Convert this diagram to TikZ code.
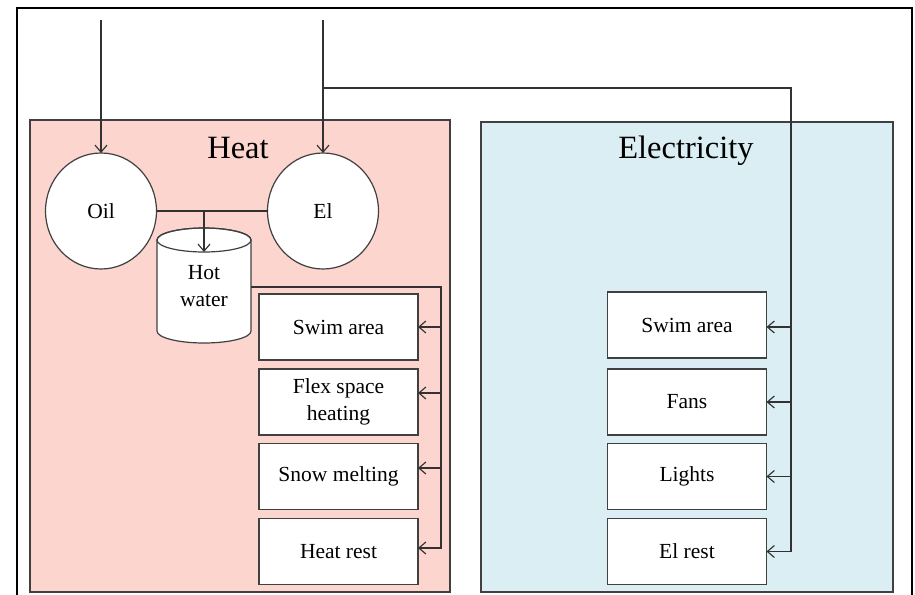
\documentclass[tikz,border=0pt]{standalone}
\usepackage{fontspec}
\setmainfont{Liberation Serif}
\usetikzlibrary{arrows.meta,shapes.geometric}
\definecolor{heatfill}{RGB}{252,213,206}
\definecolor{elfill}{RGB}{219,238,243}
\definecolor{edgegray}{RGB}{64,64,64}
\definecolor{wiregray}{RGB}{50,50,50}
\begin{document}
\begin{tikzpicture}[x=1pt,y=-1pt,
  every node/.style={inner sep=0pt, outer sep=0pt},
  group/.style={draw=edgegray, line width=1.3pt, minimum width=#1},
  title/.style={font=\fontsize{32.5}{36}\selectfont},
  box/.style={draw=edgegray, line width=1.2pt, fill=white, minimum width=159pt, minimum height=66pt, align=center, font=\fontsize{21.5}{27}\selectfont},
  src/.style={draw=edgegray, line width=1.2pt, fill=white, ellipse, minimum width=111pt, minimum height=116pt, font=\fontsize{21.5}{27}\selectfont},
  wire/.style={draw=wiregray, line width=1.15pt},
  conn/.style={wire, -{Straight Barb[length=7pt,width=12pt]}}
]
\useasboundingbox (0,0) rectangle (915,594);
% outer frame
\draw[line width=1.9pt] (17,600) -- (17,8) -- (912,8) -- (912,600);
% groups
\node[group=420pt, minimum height=472pt, fill=heatfill] (heat) at (240,356) {};
\node[group=412pt, minimum height=470pt, fill=elfill] (elec) at (687,357) {};
\node[title] (heatT) at (238,148) {Heat};
\node[title] (elecT) at (686,151) {Electricity};
% sources
\node[src] (oil) at (101,211) {Oil};
\node[src] (el) at (323,211) {El};
% hot water tank
\draw[draw=edgegray, line width=1.2pt, fill=white]
  (157,240) -- (157,331) arc[start angle=180, end angle=0, x radius=47, y radius=12]
  -- (251,240) arc[start angle=0, end angle=-180, x radius=47, y radius=12] -- cycle;
\draw[draw=edgegray, line width=1.2pt] (204,240) ellipse[x radius=47, y radius=12];
\node[align=center, font=\fontsize{21.5}{27}\selectfont] (hw) at (204,286) {Hot\\water};
\coordinate (hwtop) at (204,252);
\coordinate (hwright) at (251,287);
% heat loads
\node[box] (h1) at (338.5,327) {Swim area};
\node[box] (h2) at (338.5,402) {Flex space\\heating};
\node[box] (h3) at (338.5,476.5) {Snow melting};
\node[box] (h4) at (338.5,551.5) {Heat rest};
% electricity loads
\node[box] (e1) at (687,325) {Swim area};
\node[box] (e2) at (687,402) {Fans};
\node[box] (e3) at (687,476.5) {Lights};
\node[box] (e4) at (687,551.5) {El rest};
% arrow entry points
\coordinate (h2in) at ([yshift=9pt]h2.east);
\coordinate (h3in) at ([yshift=8.5pt]h3.east);
\coordinate (h4in) at ([yshift=3.5pt]h4.east);
\coordinate (e1in) at ([yshift=-2pt]e1.east);
% inputs
\coordinate (oilin) at (101,20);
\coordinate (elin) at (323,20);
\coordinate (ej) at (323,88);
\coordinate (eb) at (791,88);
\draw[conn] (oilin) -- (oil.north);
\draw[conn] (elin) -- (el.north);
% oil - el link to hot water
\draw[wire] (oil.east) -- (el.west);
\draw[conn] (oil.east -| hwtop) -- (hwtop);
% heat bus
\coordinate (hb) at (441,287);
\draw[conn] (hwright) -- (hb) |- (h4in);
\draw[conn] (hb |- h1.east) -- (h1.east);
\draw[conn] (hb |- h2in) -- (h2in);
\draw[conn] (hb |- h3in) -- (h3in);
% electricity bus
\draw[conn] (ej) -- (eb) |- (e4.east);
\draw[conn] (eb |- e1in) -- (e1in);
\draw[conn] (eb |- e2.east) -- (e2.east);
\draw[conn] (eb |- e3.east) -- (e3.east);
\end{tikzpicture}
\end{document}
